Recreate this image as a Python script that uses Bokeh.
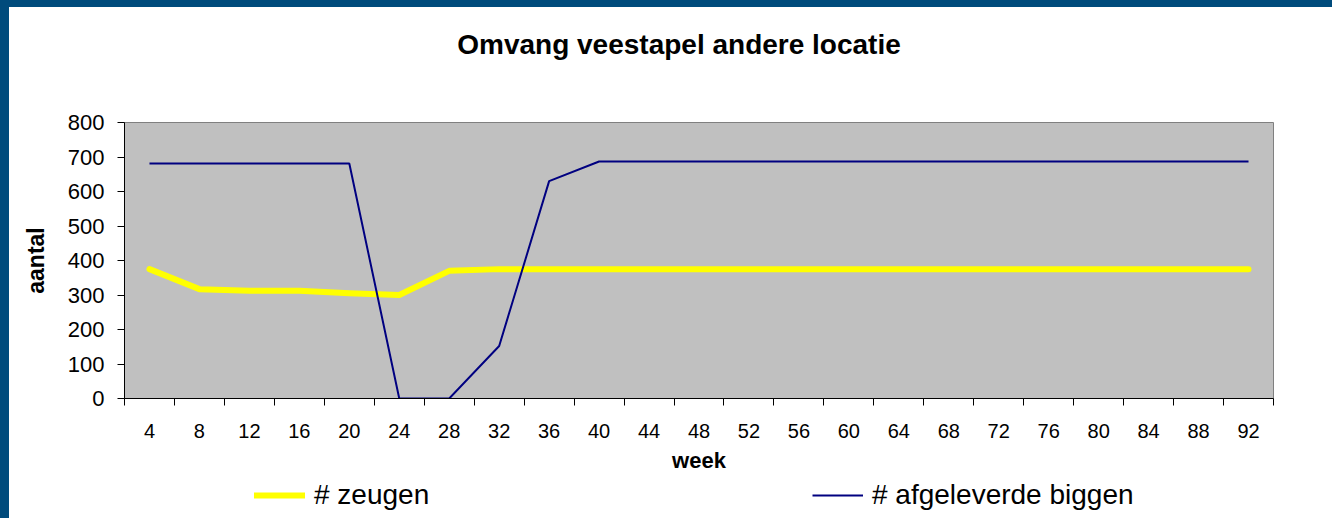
import numpy as np
from bokeh.plotting import figure
from bokeh.layouts import column
from bokeh.models import Range1d, FixedTicker, Legend, LegendItem, Label
from bokeh.embed import file_html
from bokeh.resources import INLINE

# ---- data ----
title_text = "Omvang veestapel andere locatie"
x_label = "week"
y_label = "aantal"
weeks = [4, 8, 12, 16, 20, 24, 28, 32, 36, 40, 44, 48, 52, 56, 60, 64, 68, 72, 76, 80, 84, 88, 92]
zeugen = [375, 317, 312, 312, 305, 300, 370, 375, 375, 375, 375, 375, 375, 375, 375, 375, 375, 375, 375, 375, 375, 375, 375]
biggen = [681, 681, 681, 681, 681, 0, 0, 152, 630, 687, 687, 687, 687, 687, 687, 687, 687, 687, 687, 687, 687, 687, 687]
y_ticks = [0, 100, 200, 300, 400, 500, 600, 700, 800]
series_names = ["# zeugen", "# afgeleverde biggen"]

FONT = "Liberation Sans"
W = 1323
BL, BR = 115, 59          # left / right borders shared by all strips
FW = W - BL - BR          # frame width
ZEUGEN_STYLE = dict(line_color="#FFFF00", line_width=6, line_cap="round", line_join="round")
BIGGEN_STYLE = dict(line_color="#000080", line_width=2)


def strip(height):
    f = figure(width=W, height=height, x_range=Range1d(0, FW), y_range=Range1d(0, height),
               output_backend="svg", toolbar_location=None,
               min_border_left=BL, min_border_right=BR, min_border_top=0, min_border_bottom=0)
    f.axis.visible = False
    f.grid.visible = False
    f.outline_line_color = None
    f.background_fill_color = "white"
    f.border_fill_color = "white"
    return f


# ---- title strip ----
pt = strip(100)
pt.add_layout(Label(x=554.5, y=63, text=title_text, text_font=FONT, text_font_size="28px",
                    text_font_style="bold", text_align="center", text_baseline="alphabetic",
                    text_color="black"))

# ---- main chart ----
step = weeks[1] - weeks[0]
bounds = [w - step / 2 for w in weeks] + [weeks[-1] + step / 2]

p = figure(width=W, height=371,
           x_range=Range1d(bounds[0], bounds[-1]), y_range=Range1d(y_ticks[0], y_ticks[-1]),
           output_backend="svg", toolbar_location=None,
           min_border_left=BL, min_border_right=BR, min_border_top=15, min_border_bottom=80)
p.background_fill_color = "#C0C0C0"
p.border_fill_color = "white"
p.outline_line_color = "#808080"
p.outline_line_width = 1
p.xgrid.visible = False
p.ygrid.visible = False

xa = p.xaxis[0]
xa.ticker = FixedTicker(ticks=weeks, minor_ticks=bounds)
xa.major_tick_out = 0
xa.major_tick_in = 0
xa.minor_tick_out = 7
xa.minor_tick_in = 0
xa.minor_tick_line_color = "black"
xa.axis_line_color = "black"
xa.major_label_text_font = FONT
xa.major_label_text_font_size = "20px"
xa.major_label_text_color = "black"
xa.major_label_standoff = 18
xa.axis_label = x_label
xa.axis_label_text_font = FONT
xa.axis_label_text_font_size = "22px"
xa.axis_label_text_font_style = "bold"
xa.axis_label_text_color = "black"
xa.axis_label_standoff = 7

ya = p.yaxis[0]
ya.ticker = FixedTicker(ticks=y_ticks, minor_ticks=[])
ya.major_tick_out = 7
ya.major_tick_in = 0
ya.major_tick_line_color = "black"
ya.minor_tick_line_color = None
ya.axis_line_color = "black"
ya.major_label_text_font = FONT
ya.major_label_text_font_size = "22px"
ya.major_label_text_color = "black"
ya.major_label_standoff = 13
ya.axis_label = y_label
ya.axis_label_text_font = FONT
ya.axis_label_text_font_size = "23px"
ya.axis_label_text_font_style = "bold"
ya.axis_label_text_color = "black"
ya.axis_label_standoff = 16

p.line(weeks, zeugen, **ZEUGEN_STYLE)
p.line(weeks, biggen, **BIGGEN_STYLE)

# ---- legend strip (legend-only renderers carry no visible points) ----
pl = strip(40)
nan_pt = np.array([np.nan])
lr1 = pl.line(x=nan_pt, y=nan_pt, **ZEUGEN_STYLE)
lr2 = pl.line(x=nan_pt, y=nan_pt, **BIGGEN_STYLE)
for item_label, rend, xloc in [(series_names[0], lr1, 130), (series_names[1], lr2, 688)]:
    pl.add_layout(Legend(items=[LegendItem(label=item_label, renderers=[rend])],
                         location=(xloc, 7), orientation="horizontal",
                         glyph_width=51, glyph_height=26, label_height=26, label_standoff=9,
                         padding=0, margin=0, border_line_color=None, background_fill_alpha=0,
                         label_text_font=FONT, label_text_font_size="28px",
                         label_text_color="black"), "center")

inner = column(pt, p, pl, spacing=0, styles={"background-color": "white"})
layout = column(inner, styles={"background-color": "#004B7C", "padding": "7px 0 0 9px"})

html = file_html(layout, INLINE)
html = html.replace("<body>", '<body style="margin:0; background-color:#004B7C;">', 1)
open("out.html", "w").write(html)
